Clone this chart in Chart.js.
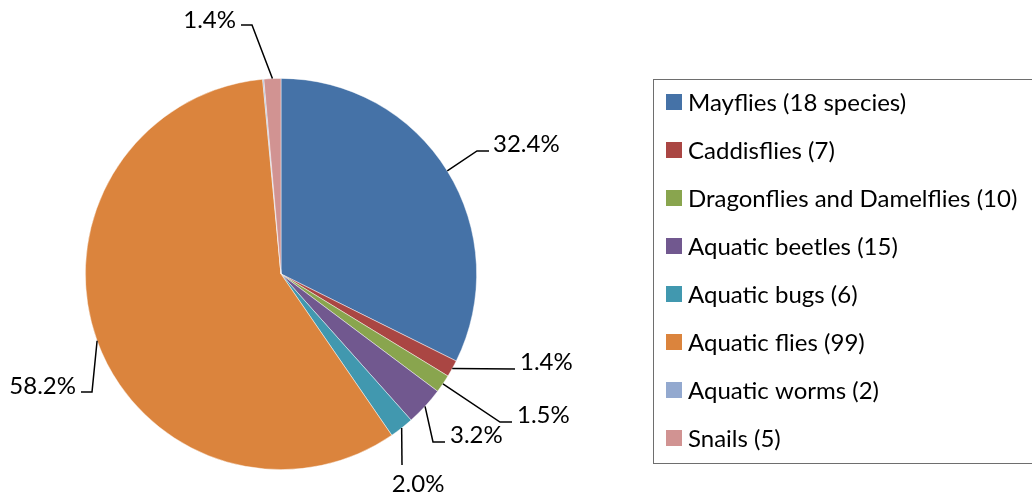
<!DOCTYPE html>
<html>
<head>
<meta charset="utf-8">
<script src="https://cdn.jsdelivr.net/npm/chart.js@4/dist/chart.umd.min.js"></script>
<style>
  html, body { margin: 0; padding: 0; background: #fff; }
  #wrap { width: 1032px; height: 498px; position: relative; }
</style>
</head>
<body>
<div id="wrap"><canvas id="c" width="1032" height="498"></canvas></div>
<script>
const categories = ["Mayflies (18 species)", "Caddisflies (7)", "Dragonflies and Damelflies (10)", "Aquatic beetles (15)", "Aquatic bugs (6)", "Aquatic flies (99)", "Aquatic worms (2)", "Snails (5)"];
const percentValues = [32.4, 1.4, 1.5, 3.2, 2.0, 58.2, 0.1, 1.4];
const showLabel = [true, true, true, true, true, true, false, true];
const sliceColors = ["#4572A7", "#AA4643", "#89A54E", "#71588F", "#4198AF", "#DB843D", "#93A9CF", "#D19392"];

// Leader-line layout (elbow points and text anchors), per slice
const labelLayout = [
  { pts: [[477, 151], [489, 151]], tx: 493, ty: 144, align: "left" },
  { pts: [[515, 369]], tx: 520, ty: 362, align: "left" },
  { pts: [[500, 422], [512, 422]], tx: 517, ty: 415, align: "left" },
  { pts: [[433, 442], [445, 442]], tx: 450, ty: 435, align: "left" },
  { pts: [[402, 465]], tx: 418, ty: 484, align: "center" },
  { pts: [[92, 392], [81, 392]], tx: 76, ty: 386, align: "right" },
  null,
  { pts: [[252, 25], [241, 25]], tx: 236, ty: 20, align: "right" }
];

const FONT = "Lato, 'Open Sans', sans-serif";

const overlay = {
  id: "overlay",
  afterDraw(chart) {
    const ctx = chart.ctx;
    const meta = chart.getDatasetMeta(0);
    ctx.save();
    // leader lines + labels
    meta.data.forEach((arc, i) => {
      if (!showLabel[i] || !labelLayout[i]) return;
      const p = arc.getProps(["x", "y", "startAngle", "endAngle", "outerRadius"], true);
      const mid = (p.startAngle + p.endAngle) / 2;
      const sx = p.x + Math.cos(mid) * p.outerRadius;
      const sy = p.y + Math.sin(mid) * p.outerRadius;
      const L = labelLayout[i];
      ctx.beginPath();
      ctx.moveTo(sx, sy);
      L.pts.forEach(q => ctx.lineTo(q[0], q[1]));
      ctx.strokeStyle = "#000";
      ctx.lineWidth = 1.5;
      ctx.stroke();
      ctx.fillStyle = "#000";
      ctx.font = "24px " + FONT;
      ctx.textAlign = L.align;
      ctx.textBaseline = "middle";
      ctx.fillText(percentValues[i].toFixed(1) + "%", L.tx, L.ty);
    });
    // legend box
    ctx.strokeStyle = "#6e6e6e";
    ctx.lineWidth = 1;
    ctx.strokeRect(653.5, 79.5, 420, 384);
    categories.forEach((name, i) => {
      const cy = 102 + 48 * i;
      ctx.fillStyle = sliceColors[i];
      ctx.fillRect(666, cy - 8, 16, 16);
      ctx.fillStyle = "#000";
      ctx.font = "24px " + FONT;
      ctx.textAlign = "left";
      ctx.textBaseline = "middle";
      ctx.fillText(name, 688, cy + 1);
    });
    ctx.restore();
  }
};

new Chart(document.getElementById("c"), {
  type: "pie",
  data: {
    labels: categories,
    datasets: [{
      data: percentValues,
      backgroundColor: sliceColors,
      borderColor: "rgba(255,255,255,0.6)",
      borderWidth: 0.75
    }]
  },
  options: {
    responsive: false,
    animation: false,
    rotation: 0,
    layout: { padding: { top: 78, bottom: 28, left: 85, right: 555 } },
    plugins: {
      legend: { display: false },
      tooltip: { enabled: false },
      title: { display: false }
    }
  },
  plugins: [overlay]
});
</script>
</body>
</html>
